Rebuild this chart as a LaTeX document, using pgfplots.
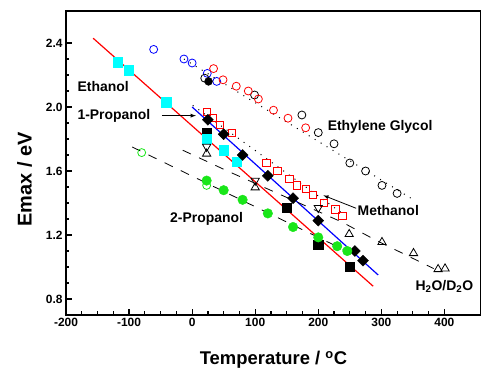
\documentclass[border=0pt]{standalone}
\usepackage{fontspec}
\setmainfont{Liberation Sans}
\usepackage{pgfplots}
\pgfplotsset{compat=1.18}
\definecolor{lime}{RGB}{25,230,25}
\definecolor{cy}{RGB}{0,255,255}
\begin{document}
\begin{tikzpicture}
\begin{axis}[
 scale only axis, width=415bp, height=304bp,
 xmin=-200, xmax=458, ymin=0.7, ymax=2.6,
 xtick={-200,-100,0,100,200,300,400}, xticklabels={-200,-100,0,100,200,300,400},
 ytick={0.8,1.2,1.6,2.0,2.4}, yticklabels={0.8,1.2,1.6,2.0,2.4},
 minor x tick num=3, minor y tick num=3,
 xtick pos=left, ytick pos=left, tick align=inside,
 major tick length=6bp, minor tick length=3.5bp,
 every tick/.style={black, line width=1.2pt},
 axis line style={line width=1.6pt},
 tick label style={font=\fontsize{12}{14}\selectfont\bfseries},
 xlabel={Temperature / \textsuperscript{o}C}, ylabel={Emax / eV},
 xlabel style={font=\fontsize{18.5}{21}\selectfont\bfseries, at={(axis description cs:0.5,-0.148)}, anchor=center},
 ylabel style={font=\fontsize{20}{23}\selectfont\bfseries, at={(axis description cs:-0.1,0.446)}, anchor=center},
 clip=false,
]
% black squares (ethanol)
\addplot[only marks, mark=square*, mark size=4.6pt, black] coordinates {(23,1.84) (150,1.37) (200,1.14) (250,1.0)};
% cyan squares (ethanol)
\addplot[only marks, mark=square*, mark size=4.6pt, cy, mark options={draw=cy}] coordinates {(-118,2.28) (-101,2.23) (-41,2.03) (23,1.80) (50,1.73) (71,1.66)};
% blue open circles
\addplot[only marks, mark=o, mark size=4pt, blue, mark options={line width=0.8pt}] coordinates {(-61,2.36) (-13,2.30) (0,2.275) (24,2.21) (39,2.16)};
% black open circles (ethylene glycol)
\addplot[only marks, mark=o, mark size=4pt, black, mark options={line width=0.8pt}] coordinates {(20,2.18) (99,2.075) (174,1.95) (200,1.84) (225,1.77) (250,1.65) (275,1.60) (301,1.51) (325,1.46)};
% black filled circle
\addplot[only marks, mark=*, mark size=4pt, black] coordinates {(26,2.16)};
% red open circles
\addplot[only marks, mark=o, mark size=4pt, red, mark options={line width=0.8pt}] coordinates {(34,2.24) (49,2.17) (70,2.13) (89,2.10) (105,2.05) (129,1.98) (152,1.93) (180,1.87)};
% red open squares (methanol)
\addplot[only marks, mark=square, mark size=3.7pt, red, mark options={line width=0.8pt}] coordinates {(23,1.97) (33,1.93) (44,1.89) (63,1.84) (118,1.65) (135,1.60) (154,1.55) (166,1.51) (180,1.49) (191,1.45) (209,1.40) (227,1.36) (238,1.32)};
% diamonds (1-propanol)
\addplot[only marks, mark=square*, mark size=3.9pt, black, mark options={rotate=45}] coordinates {(25,1.92) (50,1.83) (80,1.70) (120,1.57) (160,1.43) (200,1.29) (258,1.10) (271,1.04)};
% green filled circles (2-propanol)
\addplot[only marks, mark=*, mark size=4.8pt, lime, mark options={draw=lime}] coordinates {(23,1.54) (50,1.48) (80,1.42) (120,1.335) (160,1.25) (200,1.185) (230,1.13) (246,1.10)};
% green open circles
\addplot[only marks, mark=o, mark size=4pt, lime, mark options={line width=0.8pt}] coordinates {(-80,1.715) (23,1.51)};
% down triangles (methanol)
\addplot[only marks, mark=triangle, mark size=4.8pt, black, mark options={rotate=180, line width=0.8pt}] coordinates {(23,1.752) (100,1.54) (200,1.37)};
% up triangles (H2O/D2O)
\addplot[only marks, mark=triangle, mark size=4.8pt, black, mark options={line width=0.8pt}] coordinates {(23,1.708) (100,1.497) (249,1.205) (301,1.155) (351,1.086) (390,0.986) (401,0.99)};
% fit lines
\addplot[red, line width=1.2pt] coordinates {(-157,2.43) (287,0.88)};
\addplot[blue, line width=1.2pt] coordinates {(0,2.0) (295,0.95)};
\addplot[black, line width=0.8pt, dash pattern=on 9bp off 9bp] coordinates {(-95,1.75) (255,1.08)};
\addplot[black, line width=0.8pt, dash pattern=on 9bp off 9bp] coordinates {(-15,1.73) (56,1.60) (147,1.44) (238,1.28) (290,1.17) (383,0.99)};
\addplot[black, line width=1pt, dash pattern=on 1pt off 6pt] coordinates {(-13,2.30) (351,1.42)};
\addplot[black, line width=1pt, dash pattern=on 1pt off 6pt] coordinates {(1,2.01) (240,1.33)};
% labels
\begin{scope}[every node/.style={font=\fontsize{14}{16}\selectfont\bfseries}]
\node at (axis cs:-141,2.126) {Ethanol};
\node at (axis cs:-124,1.945) {1-Propanol};
\node at (axis cs:298,1.875) {Ethylene Glycol};
\node at (axis cs:311,1.355) {Methanol};
\node at (axis cs:23,1.30) {2-Propanol};
\node at (axis cs:400,0.88) {H\textsubscript{2}O/D\textsubscript{2}O};
\end{scope}
\draw[-latex, line width=0.8pt] (axis cs:-48,1.946) -- (axis cs:6,1.946);
\draw[-latex, line width=0.8pt] (axis cs:260,1.367) -- (axis cs:208,1.448);
\end{axis}
\pgfresetboundingbox
\path ([shift={(-66bp,-54bp)}]current axis.south west) rectangle ([shift={(0bp,11bp)}]current axis.north east);
\end{tikzpicture}
\end{document}
